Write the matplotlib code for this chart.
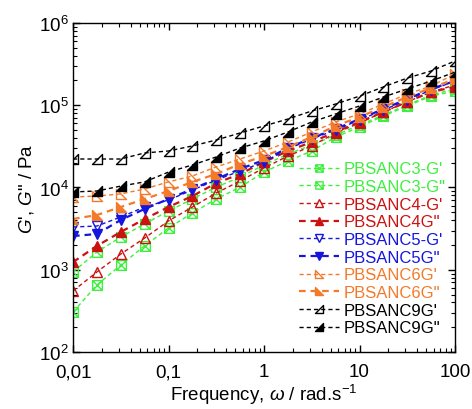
import numpy as np
import matplotlib
matplotlib.use("Agg")
import matplotlib.pyplot as plt
from matplotlib.path import Path
from matplotlib.ticker import FixedLocator, LogLocator, NullFormatter

plt.rcParams['font.family'] = ['Liberation Sans', 'DejaVu Sans']
plt.rcParams['mathtext.fontset'] = 'custom'
plt.rcParams['mathtext.rm'] = 'Liberation Sans'
plt.rcParams['mathtext.it'] = 'Liberation Sans:italic'

# Frequency sweep, rad/s
freq = [0.01, 0.0178, 0.0316, 0.0562, 0.1, 0.178, 0.316, 0.562, 1.0,
        1.78, 3.16, 5.62, 10.0, 17.8, 31.6, 56.2, 100.0]

# Moduli, Pa
c3_gp = [306, 653, 1140, 1950, 3220, 4900, 7250, 10100, 15400, 21000, 27800,
         41100, 54400, 74000, 98000, 129000, 149000]
c3_gpp = [940, 1640, 2500, 3600, 5180, 7250, 10100, 13400, 18800, 25500, 32900,
          43500, 57500, 76100, 100700, 133000, 158000]
c4_gp = [552, 940, 1550, 2430, 3920, 5790, 8570, 12000, 17300, 24100, 32000,
         46000, 60800, 82800, 110000, 145000, 176000]
c4_gpp = [1240, 1950, 2880, 4140, 5790, 7880, 11300, 14600, 20400, 27800, 35700,
          47300, 62600, 82800, 110000, 145000, 167000]
c5_gp = [3310, 3400, 4380, 5790, 7050, 9330, 12300, 15900, 20400, 29400, 38900,
         50000, 66200, 87500, 116000, 153000, 197000]
c5_gpp = [2570, 2720, 4030, 5480, 7250, 9600, 12700, 16800, 21600, 30200, 40000,
          51400, 68000, 90000, 119000, 158000, 197000]
c6_gp = [7660, 7880, 8340, 9600, 11700, 13800, 17800, 22200, 27800, 35700, 47300,
         62600, 78300, 103500, 137000, 171000, 240000]
c6_gpp = [4140, 4630, 5790, 7250, 9070, 11700, 14600, 19300, 24100, 31100, 41100,
          56000, 72000, 95300, 126000, 162000, 208000]
c9_gp = [22200, 22200, 22200, 26300, 27800, 32000, 37800, 46000, 56000, 68000,
         85100, 103500, 129000, 167000, 214000, 261000, 345000]
c9_gpp = [8820, 9070, 10400, 11700, 15400, 18800, 23500, 30200, 36800, 47300,
          62600, 78300, 98000, 126000, 158000, 197000, 253000]

labels = ["PBSANC3-G'", 'PBSANC3-G"', "PBSANC4-G'", 'PBSANC4G"', "PBSANC5-G'",
          'PBSANC5G"', "PBSANC6G'", 'PBSANC6G"', "PBSANC9G'", 'PBSANC9G"']

# custom marker shapes
M, L, C = Path.MOVETO, Path.LINETO, Path.CLOSEPOLY
sq_x = Path([(-1, -1), (1, -1), (1, 1), (-1, 1), (-1, -1), (-1, -1), (1, 1), (-1, 1), (1, -1)],
            [M, L, L, L, C, M, L, M, L])
sq_d = Path([(-1, -1), (1, -1), (1, 1), (-1, 1), (-1, -1), (-1, 1), (1, -1)],
            [M, L, L, L, C, M, L])
tri_ll = Path([(-1, 1), (-1, -1), (1, -1), (-1, 1)], [M, L, L, C])
tri_lr = Path([(1, 1), (1, -1), (-1, -1), (1, 1)], [M, L, L, C])

green = '#3ef03e'
red = '#cc1111'
blue = '#1515dd'
orange = '#f47a2a'

series = [
    (c3_gp, green, sq_x, 'none', 1.0),
    (c3_gpp, green, sq_d, 'none', 1.0),
    (c4_gp, red, '^', 'none', 1.0),
    (c4_gpp, red, '^', red, 1.6),
    (c5_gp, blue, 'v', 'none', 1.0),
    (c5_gpp, blue, 'v', blue, 1.6),
    (c6_gp, orange, tri_ll, 'none', 1.0),
    (c6_gpp, orange, tri_ll, orange, 1.6),
    (c9_gp, 'black', tri_lr, 'none', 1.0),
    (c9_gpp, 'black', tri_lr, 'black', 1.0),
]

fig = plt.figure(figsize=(4.72, 4.10), dpi=100)
ax = fig.add_axes([0.1547, 0.139, 0.8093, 0.8025])

for (vals, col, mk, fc, lw), lab in zip(series, labels):
    ax.plot(freq, vals, color=col, marker=mk, markerfacecolor=fc, markeredgecolor=col,
            markersize=7, markeredgewidth=1.0, linewidth=lw, dashes=(3, 2.2), label=lab)

ax.set_xscale('log')
ax.set_yscale('log')
ax.set_xlim(0.01, 100)
ax.set_ylim(1e2, 1e6)

ax.xaxis.set_major_locator(FixedLocator([0.01, 0.1, 1, 10, 100]))
ax.set_xticklabels(['0,01', '0,1', '1', '10', '100'])
ax.xaxis.set_minor_locator(LogLocator(base=10, subs=np.arange(2, 10)))
ax.xaxis.set_minor_formatter(NullFormatter())
ax.yaxis.set_minor_locator(LogLocator(base=10, subs=np.arange(2, 10)))
ax.yaxis.set_minor_formatter(NullFormatter())

ax.tick_params(which='both', direction='in', top=True, right=True, labelsize=13.5)
ax.tick_params(which='major', length=5, width=1)
ax.tick_params(which='minor', length=3, width=0.8)
ax.tick_params(axis='x', which='major', pad=8)
ax.tick_params(axis='y', which='major', pad=3)
for s in ax.spines.values():
    s.set_linewidth(1.0)

ax.set_xlabel('Frequency, $\\omega$ / rad.s$^{-1}$', fontsize=13.5, labelpad=1)
ax.set_ylabel("$\\mathit{G}$', $\\mathit{G}$\" / Pa", fontsize=13.5, labelpad=2)

ax.legend(loc='lower right', bbox_to_anchor=(1.005, 0.015), frameon=False, fontsize=12,
          labelcolor='linecolor', handlelength=2.4, handletextpad=0.25,
          labelspacing=0.16, borderaxespad=0.3, markerscale=0.75)

fig.savefig('out.png', dpi=100)
